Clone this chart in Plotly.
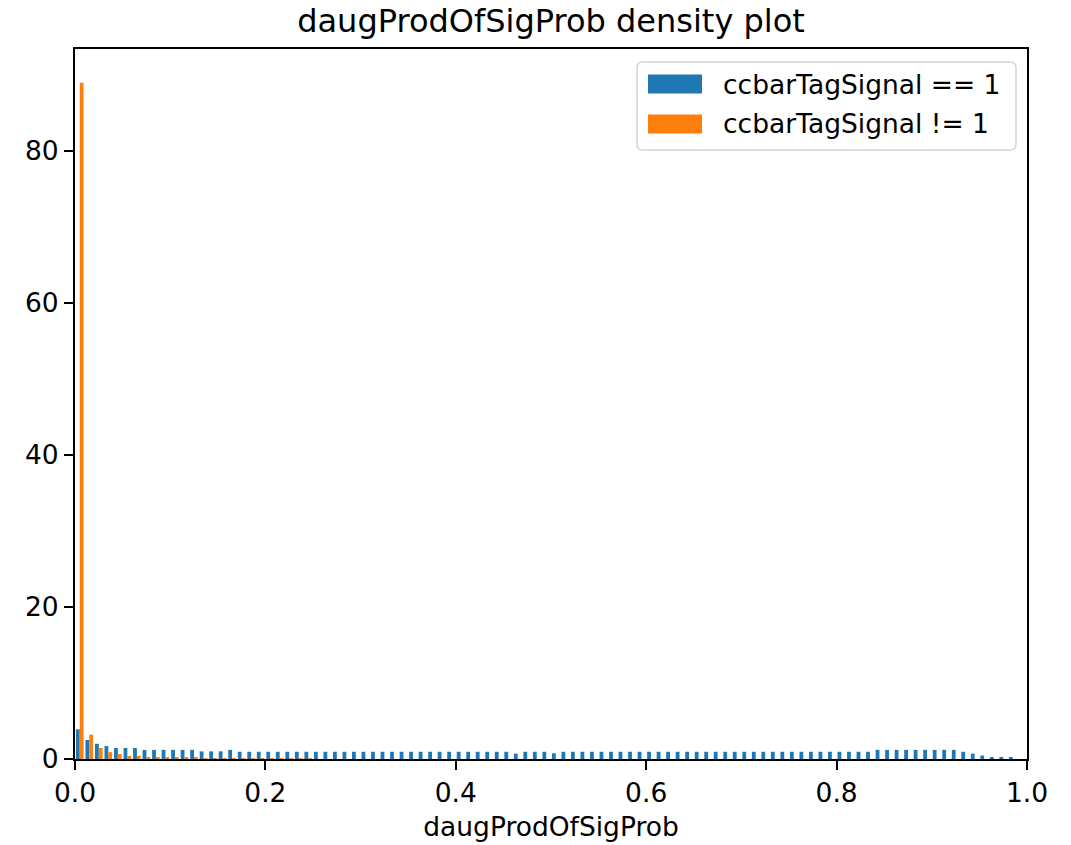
import numpy as np
import plotly.graph_objects as go

# Histogram densities, 100 bins on [0, 1]
bin_edges = np.linspace(0.0, 1.0, 101)

sig_density = (
    [3.9, 2.5, 2.0, 1.7, 1.45, 1.45, 1.45]
    + [1.2] * 6
    + [1.0] * 3
    + [1.2]
    + [0.95] * 29
    + [0.7]
    + [0.95] * 3
    + [0.75]
    + [0.95] * 33
    + [1.2] * 9
    + [0.95, 0.7, 0.45, 0.2, 0.2, 0.2, 0.0]
)

bkg_density = (
    [88.9, 3.2, 1.45, 0.9, 0.65, 0.4, 0.4]
    + [0.15] * 6
    + [0.12, 0.12, 0.1, 0.1, 0.1, 0.08, 0.08, 0.06, 0.06, 0.05, 0.05, 0.04]
    + [0.0] * 75
)

series_names = ["ccbarTagSignal == 1", "ccbarTagSignal != 1"]
series_colors = ["#1f77b4", "#ff7f0e"]
title_text = "daugProdOfSigProb density plot"
x_label = "daugProdOfSigProb"
x_ticks = [0.0, 0.2, 0.4, 0.6, 0.8, 1.0]
y_ticks = [0, 20, 40, 60, 80]

centers = (bin_edges[:-1] + bin_edges[1:]) / 2
font_family = "DejaVu Sans"
fs = 26.5

fig = go.Figure()
for vals, name, col in zip([sig_density, bkg_density], series_names, series_colors):
    fig.add_trace(go.Bar(x=centers, y=vals, name=name, marker=dict(color=col, line=dict(width=0)),
                         showlegend=False))

ymax = max(max(sig_density), max(bkg_density)) * 1.05

W, H = 1071, 845
L, R, T, B = 75, 44, 49, 86

fig.update_layout(
    width=W, height=H,
    margin=dict(l=L, r=R, t=T, b=B),
    paper_bgcolor="white", plot_bgcolor="white",
    barmode="group", bargap=0.2, bargroupgap=0.0,
    font=dict(family=font_family, size=fs, color="black"),
    title=dict(text=title_text, x=0.5 * (L + W - R) / W, xanchor="center",
               y=1 - 21 / H, yanchor="middle", yref="container",
               font=dict(size=32, family=font_family, color="black")),
    xaxis=dict(range=[0, 1], tickvals=x_ticks, ticktext=[f"{v:.1f}" for v in x_ticks],
               showgrid=False, zeroline=False, showline=True, linecolor="black", linewidth=2,
               mirror=True, ticks="outside", ticklen=9, tickwidth=2, tickcolor="black",
               automargin=False,
               title=dict(text=x_label, standoff=11, font=dict(size=fs))),
    yaxis=dict(range=[0, ymax], tickvals=y_ticks, showgrid=False, zeroline=False,
               showline=True, linecolor="black", linewidth=2, mirror=True, automargin=False,
               ticks="outside", ticklen=9, tickwidth=2, tickcolor="black"),
)

# Legend drawn in matplotlib style (wide patches, light rounded frame)
pw = W - L - R
ph = H - T - B
def px(x):
    return (x - L) / pw
def py(y):
    return 1 - (y - T) / ph

bx0, bx1, by0, by1 = 637, 1016, 62, 150
rad = 6
pts = [
    ("M", bx0 + rad, by0), ("L", bx1 - rad, by0), ("Q", bx1, by0, bx1, by0 + rad),
    ("L", bx1, by1 - rad), ("Q", bx1, by1, bx1 - rad, by1), ("L", bx0 + rad, by1),
    ("Q", bx0, by1, bx0, by1 - rad), ("L", bx0, by0 + rad), ("Q", bx0, by0, bx0 + rad, by0),
]
segs = []
for p in pts:
    cmd, coords = p[0], p[1:]
    xy = []
    for i in range(0, len(coords), 2):
        xy.append(f"{px(coords[i])},{py(coords[i + 1])}")
    segs.append(cmd + " " + " ".join(xy))
path = " ".join(segs) + " Z"
fig.add_shape(type="path", path=path, xref="paper", yref="paper",
              line=dict(color="#d5d5d5", width=1.5), fillcolor="rgba(255,255,255,0.8)")
row_y = [84, 124]
for name, col, yc in zip(series_names, series_colors, row_y):
    fig.add_shape(type="rect", xref="paper", yref="paper", x0=px(648), x1=px(702),
                  y0=py(yc + 9.5), y1=py(yc - 9.5), line=dict(width=0), fillcolor=col)
    fig.add_annotation(text=name, xref="paper", yref="paper", x=px(721), y=py(yc),
                       xanchor="left", yanchor="middle", showarrow=False,
                       font=dict(size=fs, family=font_family, color="black"))

fig.write_html("out.html")
